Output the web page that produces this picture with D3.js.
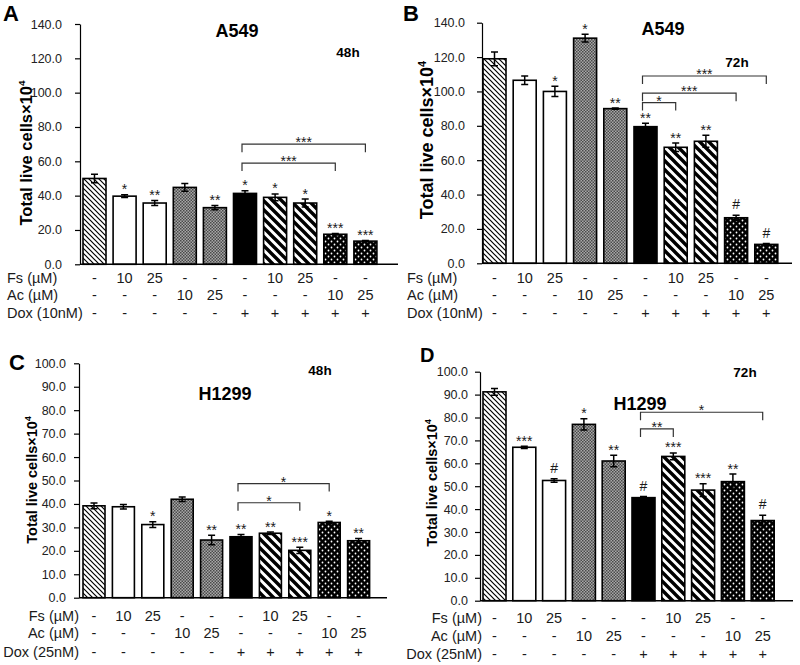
<!DOCTYPE html>
<html><head><meta charset="utf-8">
<script src="https://cdn.jsdelivr.net/npm/d3@7"></script>
<style>
body{margin:0;background:#fff}
svg{display:block}
text{font-family:"Liberation Sans",Arial,sans-serif;fill:#1a1a1a}
</style>
</head><body>
<svg id="chart" width="800" height="665"></svg>
<script>
// ---------- data ----------
const fsRow  = ["-","10","25","-","-","-","10","25","-","-"];
const acRow  = ["-","-","-","10","25","-","-","-","10","25"];
const doxRow = ["-","-","-","-","-","+","+","+","+","+"];
const barPatterns = ["thin","white","white","gray","gray","black","wide","wide","dots","dots"];

const valuesA = [50,39.7,35.7,44.8,33,41.3,39,35.7,17.5,13.5];
const errA    = [2.5,0.8,1.5,2.3,1.2,1.5,2,2.3,0.4,0.4];
const sigA    = ["","*","**","","**","*","*","*","***","***"];
const bracketsA = [{from:5,to:9,at:70,label:"***"},{from:5,to:8,at:59,label:"***"}];

const valuesB = [119,106.5,100,131,90,79.5,67.5,71,26.5,11];
const errB    = [4,2.5,3,2.3,0.3,2,2.5,3.5,1.5,0.5];
const sigB    = ["","","*","*","**","**","**","**","#","#"];
const bracketsB = [{from:5,to:9,at:109,label:"***"},{from:5,to:8,at:99,label:"***"},{from:5,to:6,at:93.5,label:"*"}];

const valuesC = [39.2,38.8,31.2,42,24.6,26,27.5,20.2,32.1,24.3];
const errC    = [1.2,1,1.2,1,2,1,0.5,1.3,0.5,1];
const sigC    = ["","","*","","**","**","**","***","*","**"];
const bracketsC = [{from:5,to:8,at:48.7,label:"*"},{from:5,to:7,at:40.5,label:"*"}];

const valuesD = [91.2,67,52.5,77,61,45,63,48.3,52,35];
const errD    = [1.5,0.5,0.8,2.5,2.5,0.5,1.5,2.8,3.3,2.3];
const sigD    = ["","***","#","*","**","#","***","***","**","#"];
const bracketsD = [{from:5,to:9,at:82.3,label:"*"},{from:5,to:6,at:75,label:"**"}];

// ---------- layout ----------
const panels = [
 {letter:"A",letterXY:[3,21],letterSize:22,values:valuesA,err:errA,sig:sigA,brackets:bracketsA,yMax:140,yStep:20,
  y0:264.3,yTop:24,axisX:80,axisEnd:398,firstLeft:83,step:30.1,bw:23,tickPad:13,tickSize:12.5,
  cell:"A549",cellXY:[237,37],cellSize:18,time:"48h",timeXY:[348,57],dox:"Dox (10nM)",
  labelX:7,labelAnchor:"start",rowY:[283,300,318],
  yTitleXY:[32,153],yTitleSize:16.5},
 {letter:"B",letterXY:[403,21],letterSize:22,values:valuesB,err:errB,sig:sigB,brackets:bracketsB,yMax:140,yStep:20,
  y0:263.3,yTop:22.7,axisX:482,axisEnd:792,firstLeft:483,step:30.2,bw:23,tickPad:12,tickSize:12.5,
  cell:"A549",cellXY:[663,35],cellSize:18,time:"72h",timeXY:[737,67],dox:"Dox (10nM)",
  labelX:407,labelAnchor:"start",rowY:[283,300,318],
  yTitleXY:[433,140],yTitleSize:18},
 {letter:"C",letterXY:[9,370],letterSize:22,values:valuesC,err:errC,sig:sigC,brackets:bracketsC,yMax:100,yStep:10,
  y0:597.7,yTop:363.3,axisX:79,axisEnd:387,firstLeft:83,step:29.4,bw:22,tickPad:8,tickSize:12.5,
  cell:"H1299",cellXY:[225,400],cellSize:18,time:"48h",timeXY:[320,375],dox:"Dox (25nM)",
  labelX:79,labelAnchor:"end",rowY:[621,638,657],
  yTitleXY:[37,480],yTitleSize:14.5},
 {letter:"D",letterXY:[420,362],letterSize:20,values:valuesD,err:errD,sig:sigD,brackets:bracketsD,yMax:100,yStep:10,
  y0:600.7,yTop:371.7,axisX:480,axisEnd:793,firstLeft:483,step:29.8,bw:23,tickPad:7,tickSize:12.5,
  cell:"H1299",cellXY:[640,410],cellSize:18,time:"72h",timeXY:[745,377],dox:"Dox (25nM)",
  labelX:482,labelAnchor:"end",rowY:[623,641,659],
  yTitleXY:[437,483],yTitleSize:14.5}
];

const svg = d3.select("#chart");

// ---------- patterns ----------
const defs = svg.append("defs");
{
  let p = defs.append("pattern").attr("id","pat-thin").attr("patternUnits","userSpaceOnUse")
    .attr("width",5).attr("height",5);
  p.append("rect").attr("width",5).attr("height",5).attr("fill","#fff");
  p.append("path").attr("d","M-1,-1L6,6M-1,4L1,6M4,-1L6,1").attr("stroke","#000").attr("stroke-width",1.2);

  p = defs.append("pattern").attr("id","pat-wide").attr("patternUnits","userSpaceOnUse")
    .attr("width",9).attr("height",9);
  p.append("rect").attr("width",9).attr("height",9).attr("fill","#fff");
  p.append("path").attr("d","M-2,-2L11,11M-2,7L2,11M7,-2L11,2").attr("stroke","#000").attr("stroke-width",3.4);

  p = defs.append("pattern").attr("id","pat-gray").attr("patternUnits","userSpaceOnUse")
    .attr("width",3).attr("height",3);
  p.append("rect").attr("width",3).attr("height",3).attr("fill","#a8a8a8");
  p.append("rect").attr("width",1.5).attr("height",1.5).attr("fill","#4a4a4a");
  p.append("rect").attr("x",1.5).attr("y",1.5).attr("width",1.5).attr("height",1.5).attr("fill","#4a4a4a");

  p = defs.append("pattern").attr("id","pat-dots").attr("patternUnits","userSpaceOnUse")
    .attr("width",6).attr("height",6);
  p.append("rect").attr("width",6).attr("height",6).attr("fill","#000");
  p.append("circle").attr("cx",1.5).attr("cy",1.5).attr("r",0.9).attr("fill","#fff");
  p.append("circle").attr("cx",4.5).attr("cy",4.5).attr("r",0.9).attr("fill","#fff");
}
const fillOf = k => k==="white" ? "#fff" : k==="black" ? "#000" : `url(#pat-${k})`;

// ---------- draw ----------
panels.forEach(P => {
  const n = P.values.length;
  const pi = 1 - P.bw/P.step;
  const po = (P.firstLeft - P.axisX)/P.step;
  const x = d3.scaleBand().domain(d3.range(n))
    .range([P.axisX, P.axisX + P.step*(n - pi + 2*po)])
    .paddingInner(pi).paddingOuter(po);
  const y = d3.scaleLinear().domain([0,P.yMax]).range([P.y0,P.yTop]);
  const g = svg.append("g");
  const cx = i => x(i) + x.bandwidth()/2;

  g.append("text").attr("x",P.letterXY[0]).attr("y",P.letterXY[1])
    .attr("font-size",P.letterSize).attr("font-weight","bold").style("fill","#000").text(P.letter);

  g.selectAll("rect.bar").data(P.values).join("rect").attr("class","bar")
    .attr("x",(d,i)=>x(i)).attr("y",d=>y(d)).attr("width",x.bandwidth())
    .attr("height",d=>y(0)-y(d)).attr("fill",(d,i)=>fillOf(barPatterns[i]))
    .attr("stroke","#000").attr("stroke-width",1.6);

  const eb = g.selectAll("g.err").data(P.values).join("g").attr("class","err");
  eb.append("path").attr("d",(d,i)=>{
      const c=cx(i), t=y(d+P.err[i]), b=y(d-P.err[i]);
      return `M${c},${t}V${b}M${c-3.5},${t}H${c+3.5}M${c-3.5},${b}H${c+3.5}`;})
    .attr("stroke","#000").attr("stroke-width",1.5).attr("fill","none");

  g.selectAll("text.sig").data(P.sig).join("text").attr("class","sig")
    .attr("x",(d,i)=>cx(i))
    .attr("y",(d,i)=> y(P.values[i]+P.err[i]) - (d==="#"?6:0.5))
    .attr("text-anchor","middle")
    .attr("font-size",14)
    .attr("font-family",d=>d==="#"?"'Liberation Serif',serif":null)
    .text(d=>d);

  P.brackets.forEach(b=>{
    const x1=cx(b.from)-3, x2=cx(b.to), yy=y(b.at);
    g.append("path").attr("d",`M${x1},${yy+8}V${yy}H${x2}V${yy+8}`)
      .attr("stroke","#333").attr("stroke-width",1.2).attr("fill","none");
    g.append("text").attr("x",(x1+x2)/2).attr("y",yy+3).attr("text-anchor","middle")
      .attr("font-size",14).text(b.label);
  });

  const ax = g.append("g").attr("transform",`translate(${P.axisX},0)`)
    .call(d3.axisLeft(y).tickValues(d3.range(0,P.yMax+0.1,P.yStep)).tickFormat(d3.format(".1f"))
      .tickSize(5).tickSizeOuter(0).tickPadding(P.tickPad));
  ax.selectAll("path,line").attr("stroke","#000").attr("stroke-width",1.2);
  ax.selectAll("text").attr("font-size",P.tickSize).style("font-family","'Liberation Sans',Arial,sans-serif").style("fill","#222");

  g.append("line").attr("x1",P.axisX).attr("x2",P.axisEnd).attr("y1",P.y0).attr("y2",P.y0)
    .attr("stroke","#000").attr("stroke-width",1.5);

  const yt = g.append("text").attr("transform",`translate(${P.yTitleXY[0]},${P.yTitleXY[1]}) rotate(-90)`)
    .attr("text-anchor","middle").attr("font-size",P.yTitleSize).attr("font-weight","bold").style("fill","#000");
  yt.append("tspan").text("Total live cells×10");
  yt.append("tspan").attr("font-size",P.yTitleSize*0.6).attr("dy",-P.yTitleSize*0.4).text("4");

  g.append("text").attr("x",P.cellXY[0]).attr("y",P.cellXY[1]).attr("text-anchor","middle")
    .attr("font-size",P.cellSize).attr("font-weight","bold").style("fill","#000").text(P.cell);
  g.append("text").attr("x",P.timeXY[0]).attr("y",P.timeXY[1]).attr("text-anchor","middle")
    .attr("font-size",13.5).attr("font-weight","bold").style("fill","#000").text(P.time);

  const rows = [["Fs (µM)",fsRow],["Ac (µM)",acRow],[P.dox,doxRow]];
  rows.forEach((r,ri)=>{
    g.append("text").attr("x",P.labelX).attr("y",P.rowY[ri]).attr("text-anchor",P.labelAnchor)
      .attr("font-size",14.5).text(r[0]);
    g.selectAll(null).data(r[1]).join("text")
      .attr("x",(d,i)=>cx(i)).attr("y",P.rowY[ri]).attr("text-anchor","middle")
      .attr("font-size",14.5).text(d=>d);
  });
});
</script>
</body></html>
